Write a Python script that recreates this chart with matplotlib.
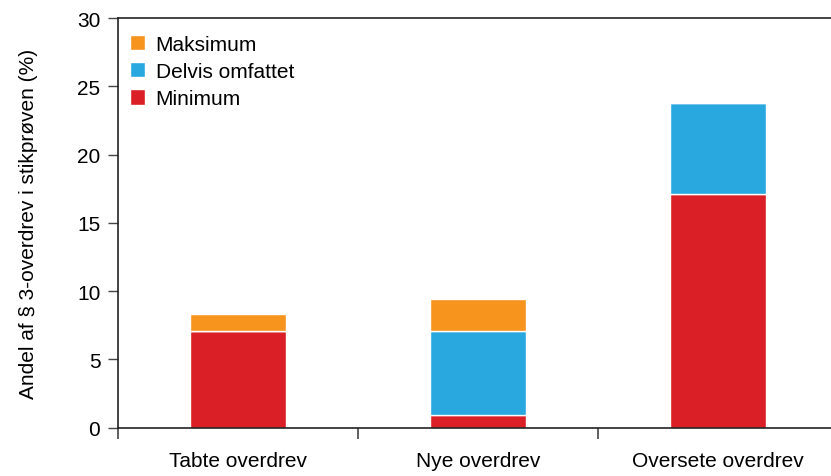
import matplotlib.pyplot as plt
import numpy as np

plt.rcParams['font.family'] = ['Liberation Sans', 'DejaVu Sans']

kategorier = ['Tabte overdrev', 'Nye overdrev', 'Oversete overdrev']
minimum = [7.1, 0.9, 17.1]
delvis = [0.0, 6.15, 6.7]
maksimum = [1.2, 2.4, 0.0]

farver = {'Minimum': '#da1f26', 'Delvis omfattet': '#29a8e0', 'Maksimum': '#f7941e'}

fig = plt.figure(figsize=(8.31, 4.77), dpi=100)
ax = fig.add_axes([0.1416, 0.1013, 0.8584, 0.8587])

x = np.arange(len(kategorier))
bund = np.zeros(len(kategorier))
handles = {}
for navn, vaerdier in [('Minimum', minimum), ('Delvis omfattet', delvis), ('Maksimum', maksimum)]:
    v = np.array(vaerdier)
    b = ax.bar(x, v, 0.4, bottom=bund, color=farver[navn], edgecolor='white', linewidth=1.0, label=navn)
    handles[navn] = b
    bund = bund + v

ax.set_xlim(-0.5, 2.47)
ax.set_ylim(0, 30)
ax.set_yticks([0, 5, 10, 15, 20, 25, 30])
ax.set_xticks([-0.5, 0.5, 1.5])
ax.set_xticklabels([])
ax.set_xticks(x, minor=True)
ax.set_xticklabels(kategorier, minor=True)
ax.tick_params(axis='x', which='minor', length=0, pad=17, labelsize=15)
ax.tick_params(axis='x', which='major', length=8, width=1.2, color='#444444', direction='out')
ax.tick_params(axis='y', length=7.5, width=1, color='#444444', labelsize=15, pad=5)

for s in ['top', 'left', 'bottom']:
    ax.spines[s].set_color('#222222')
    ax.spines[s].set_linewidth(1.2)
ax.spines['right'].set_visible(False)

ax.set_ylabel('Andel af § 3-overdrev i stikprøven (%)', fontsize=15, labelpad=28)

leg = ax.legend([handles['Maksimum'], handles['Delvis omfattet'], handles['Minimum']],
                ['Maksimum', 'Delvis omfattet', 'Minimum'],
                loc='upper left', frameon=False, fontsize=15,
                handlelength=0.75, handleheight=0.75, handletextpad=0.5,
                labelspacing=0.4, borderaxespad=0.3, borderpad=0.2,
                bbox_to_anchor=(0.002, 0.985))

fig.savefig('out.png', dpi=100)
